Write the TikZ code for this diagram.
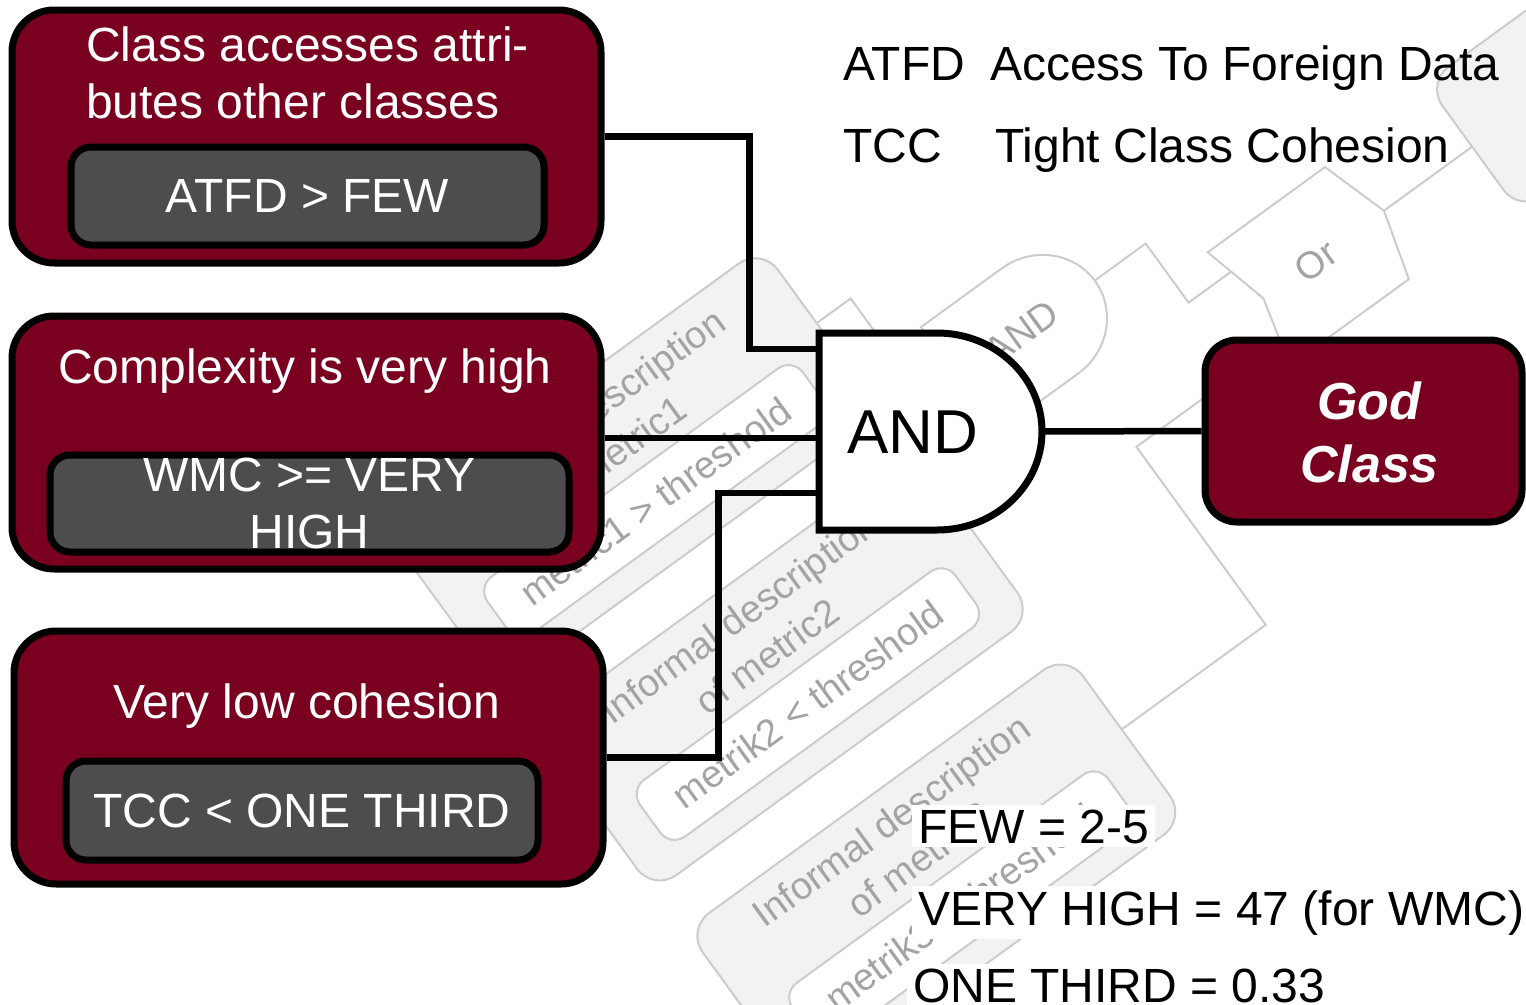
\documentclass[tikz,border=0pt]{standalone}
\usepackage{fontspec}
\setmainfont{Liberation Sans}
\usepackage{tikz}

\definecolor{godred}{HTML}{7A0020}
\definecolor{condgrey}{HTML}{4D4D4D}
\definecolor{wmtext}{HTML}{A3A3A3}
\definecolor{wmline}{HTML}{CCCCCC}
\definecolor{wmfill}{HTML}{F2F2F2}
\newcommand{\bigfont}{\fontsize{48}{57}\selectfont}
\newcommand{\wmfont}{\fontsize{38}{48}\selectfont}

\begin{document}
\begin{tikzpicture}[x=1pt, y=-1pt,
    rule_box/.style={draw, line width=7pt, fill=godred, rounded corners=42pt, minimum width=589pt, minimum height=253pt},
    cond_box/.style={draw, line width=7pt, fill=condgrey, rounded corners=20pt, text=white, font=\bigfont, align=center, inner sep=0pt},
    rule_title/.style={text=white, font=\bigfont, inner sep=0pt},
    god_box/.style={draw, line width=7pt, fill=godred, rounded corners=32pt, minimum width=317pt, minimum height=182pt},
    god_text/.style={text=white, font=\fontsize{52}{63}\selectfont\bfseries\itshape, align=center, inner sep=0pt},
    wire/.style={line width=6.5pt},
    legend_text/.style={font=\bigfont, inner sep=0pt, anchor=base west},
    value_text/.style={legend_text, fill=white, inner xsep=6pt, inner ysep=4pt},
    wm_box/.style={draw=wmline, line width=2pt, fill=wmfill, rounded corners=28pt},
    wm_cond/.style={draw=wmline, line width=2pt, fill=white, rounded corners=18pt},
    wm_line/.style={draw=wmline, line width=2pt},
    wm_text/.style={text=wmtext, font=\wmfont, align=center, inner sep=0pt, transform shape}]

    \useasboundingbox (0,0) rectangle (1526,1004);
    \fill[white] (0,0) rectangle (1526,1004);

    % faded fault tree behind the figure
    \begin{scope}
        \clip (0,0) rectangle (1526,1004);
        \begin{scope}[shift={(582,417)}, rotate=36]
            \foreach \k/\metric/\condtext in {0/metric1/{metric1 > threshold}, 1/metric2/{metrik2 < threshold}, 2/metric3/{metrik3 > threshold}} {
                \begin{scope}[shift={(4*\k,254*\k)}]
                    \draw[wm_box] (-225,-32) rectangle (245,172);
                    \draw[wm_cond] (-185,76) rectangle (205,146);
                    \node[wm_text] (wmdesc\k) at (5,24) {Informal description\\of \metric};
                    \node[wm_text] (wmcond\k) at (10,111) {\condtext};
                \end{scope}
            }
            \draw[wm_line] (245,62) -- (287,62) -- (287,170) -- (327,170);
            \draw[wm_line] (249,316) -- (287,316) -- (287,215) -- (327,215);
            \draw[wm_line] (253,570) -- (431,570) -- (431,350) -- (560,350);
            \draw[wm_line, fill=white] (327,126.5) -- (427,126.5) arc[start angle=-90, end angle=90, x radius=68, y radius=65] -- (327,256.5) -- cycle;
            \node[wm_text] (wmand) at (405,190) {AND};
            \draw[wm_line] (495,191) -- (558,191) -- (558,264) -- (610,264);
            \draw[wm_line, fill=white] (603,234.5) -- (748,234.5) -- (770,304.5) -- (750,374.5) -- (603,374.5) -- (621,304.5) -- cycle;
            \node[wm_text] (wmor) at (685,305) {Or};
            \draw[wm_line] (770,304.5) -- (879,304.5);
            \draw[wm_box] (879,226) rectangle (1180,386);
        \end{scope}
    \end{scope}

    % the three rules
    \node[rule_box] (atfdbox) at (306.5,136.5) {};
    \node[rule_title, anchor=base west, align=left] (atfdtitle) at (86,118) {Class accesses attri-\\butes other classes};
    \node[cond_box, minimum width=473pt, minimum height=98pt] (atfdcond) at (307.5,196) {ATFD > FEW};

    \node[rule_box] (wmcbox) at (306.5,442.5) {};
    \node[rule_title, anchor=base] (wmctitle) at (305,383) {Complexity is very high};
    \node[cond_box, minimum width=519pt, minimum height=97pt] (wmccond) at (309.5,503.5) {WMC >= VERY\\HIGH};

    \node[rule_box] (tccbox) at (308.5,757.5) {};
    \node[rule_title, anchor=base] (tcctitle) at (307,718) {Very low cohesion};
    \node[cond_box, minimum width=472pt, minimum height=99pt] (tcccond) at (302,810.5) {TCC < ONE THIRD};

    % AND gate
    \coordinate (in1) at (819,349);
    \coordinate (in2) at (819,438);
    \coordinate (in3) at (819,493);
    \coordinate (out) at (1042,431.5);
    \draw[wire] (atfdbox.east) -- ++(145,0) |- (in1);
    \draw[wire] (in2 -| wmcbox.east) -- (in2);
    \draw[wire] (tccbox.east) -- ++(112,0) |- (in3);
    \draw[line width=7pt, fill=white] (819,530) -- (819,333) -- (937,333) arc[start angle=-90, end angle=90, x radius=105, y radius=98.5] -- cycle;
    \node[font=\fontsize{62}{70}\selectfont, inner sep=0pt] (andgate) at (913,432.5) {AND};

    % result
    \node[god_box] (godbox) at (1363.5,431) {};
    \node[god_text] (godtext) at (1369.5,432) {God\\Class};
    \draw[wire] (out) -- (godbox.west);

    % legend
    \node[legend_text] (atfdabbr) at (843,80) {ATFD};
    \node[legend_text] (atfdname) at (990,80) {Access To Foreign Data};
    \node[legend_text] (tccabbr) at (843,162) {TCC};
    \node[legend_text] (tccname) at (995,162) {Tight Class Cohesion};
    \node[value_text] (fewval) at (912,843) {FEW = 2-5};
    \node[value_text] (veryhighval) at (912,925) {VERY HIGH = 47 (for WMC)};
    \node[value_text] (onethirdval) at (907,1002) {ONE THIRD = 0.33};

\end{tikzpicture}
\end{document}
